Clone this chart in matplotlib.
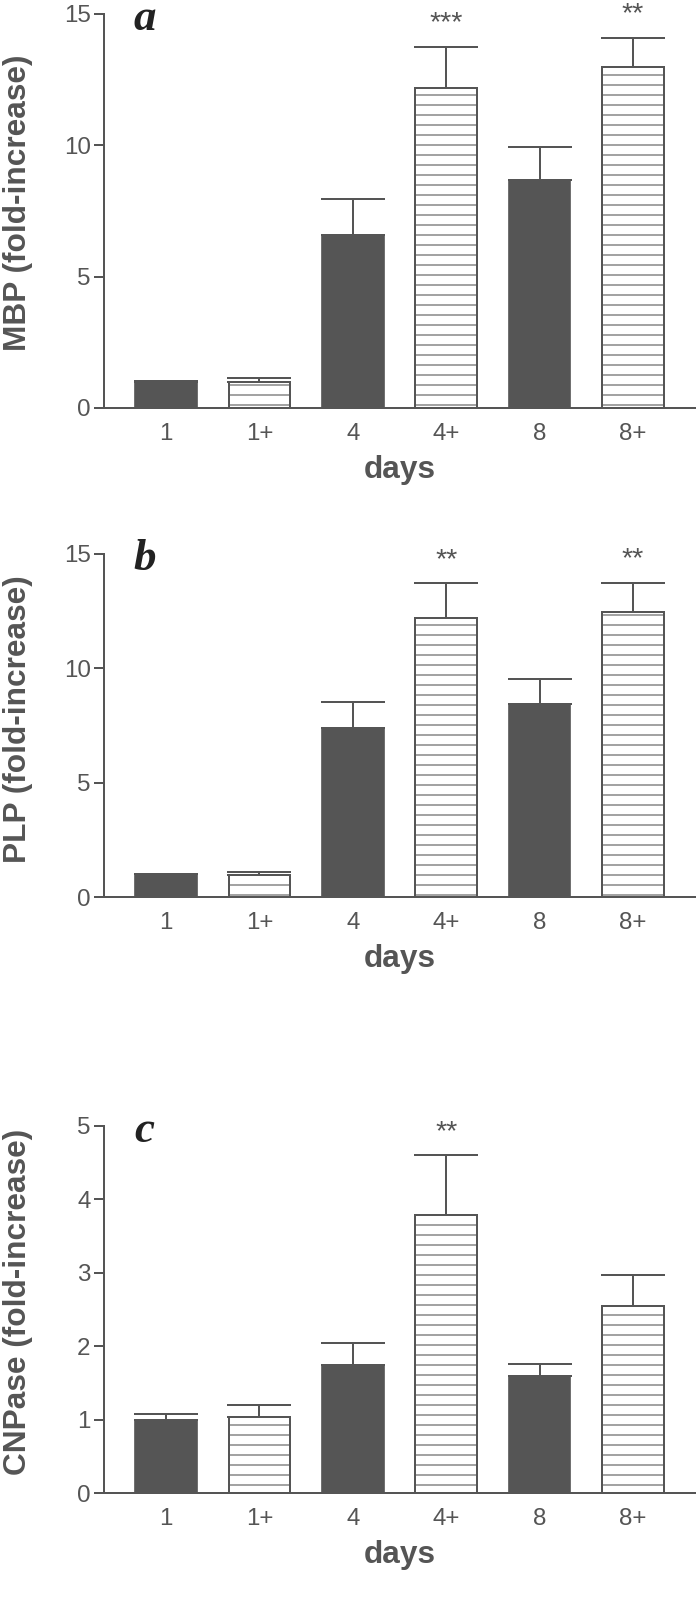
"""
Myelin gene expression (MBP, PLP, CNPase) - fold increase over days.
"""

import matplotlib
matplotlib.use('Agg')
import matplotlib.pyplot as plt
import numpy as np

plt.rcParams['font.family'] = ['Liberation Sans', 'DejaVu Sans']
plt.rcParams['hatch.linewidth'] = 0.9

# Data
days = ['1', '1+', '4', '4+', '8', '8+']
hatched = [False, True, False, True, False, True]

mbp_mean = [1.0, 1.0, 6.58, 12.2, 8.67, 13.0]
mbp_err = [0.02, 0.13, 1.37, 1.55, 1.28, 1.1]
mbp_stars = ['', '', '', '***', '', '**']

plp_mean = [1.0, 0.96, 7.38, 12.2, 8.44, 12.48]
plp_err = [0.0, 0.12, 1.16, 1.53, 1.09, 1.26]
plp_stars = ['', '', '', '**', '', '**']

cnp_mean = [1.0, 1.03, 1.74, 3.79, 1.59, 2.55]
cnp_err = [0.08, 0.17, 0.30, 0.81, 0.17, 0.42]
cnp_stars = ['', '', '', '**', '', '']

panels = [
    ('a', 'MBP (fold-increase)', mbp_mean, mbp_err, mbp_stars, 15, [0, 5, 10, 15]),
    ('b', 'PLP (fold-increase)', plp_mean, plp_err, plp_stars, 15, [0, 5, 10, 15]),
    ('c', 'CNPase (fold-increase)', cnp_mean, cnp_err, cnp_stars, 5, [0, 1, 2, 3, 4, 5]),
]

# Axes boxes in pixels (top, bottom) on a 700 x 1613 canvas
W, H = 700, 1613
boxes = [(14, 408), (554, 897), (1126, 1493)]
left_px, right_px = 104, 695

dark = '#555555'
axis_col = '#555555'
text_col = '#555555'

fig = plt.figure(figsize=(W / 120, H / 120), dpi=120)

for (letter, ylabel, means, errs, stars, ymax, yticks), (top, bot) in zip(panels, boxes):
    ax = fig.add_axes([left_px / W, 1 - bot / H, (right_px - left_px) / W, (bot - top) / H])
    x = np.arange(len(days))

    for xi, m, h in zip(x, means, hatched):
        if h:
            ax.bar(xi, m, width=0.66, color='white', edgecolor='#858585', linewidth=0,
                   hatch='--', zorder=2)
            ax.bar(xi, m, width=0.66, color='none', edgecolor=dark, linewidth=1.2, zorder=3)
        else:
            ax.bar(xi, m, width=0.66, color=dark, edgecolor=dark, linewidth=1.0, zorder=2)

    # upper error bars only
    ax.errorbar(x, means, yerr=[np.zeros(len(errs)), errs], fmt='none', ecolor=axis_col,
                elinewidth=1.2, capsize=19, capthick=1.2, zorder=4)

    for xi, m, e, s in zip(x, means, errs, stars):
        if s:
            ax.annotate(s, xy=(xi, m + e), xytext=(0, 14), textcoords='offset points',
                        ha='center', va='center', fontsize=17, color=text_col)

    ax.set_xlim(-0.665, 5.665)
    ax.set_ylim(0, ymax)
    ax.set_yticks(yticks)
    ax.set_xticks(x)
    ax.set_xticklabels(days)

    for side in ['top', 'right']:
        ax.spines[side].set_visible(False)
    for side in ['left', 'bottom']:
        ax.spines[side].set_color(axis_col)
        ax.spines[side].set_linewidth(1.2)

    ax.tick_params(axis='y', length=6, width=1.2, color=axis_col, pad=2,
                   labelsize=14.5, labelcolor=text_col)
    ax.tick_params(axis='x', length=0, pad=9, labelsize=14.5, labelcolor=text_col)

    ax.set_ylabel(ylabel, fontsize=19, fontweight='bold', color=text_col)
    ax.yaxis.set_label_coords(-0.12, 0.52)
    ax.set_xlabel('days', fontsize=19, fontweight='bold', color=text_col, labelpad=6)

    ax.annotate(letter, xy=(0.069, 1), xycoords='axes fraction', xytext=(0, -9.5),
                textcoords='offset points', ha='center', va='baseline',
                fontsize=27, fontweight='bold', fontstyle='italic',
                family=['Liberation Serif', 'DejaVu Serif'], color='#222222')

fig.savefig('out.png', dpi=120)
